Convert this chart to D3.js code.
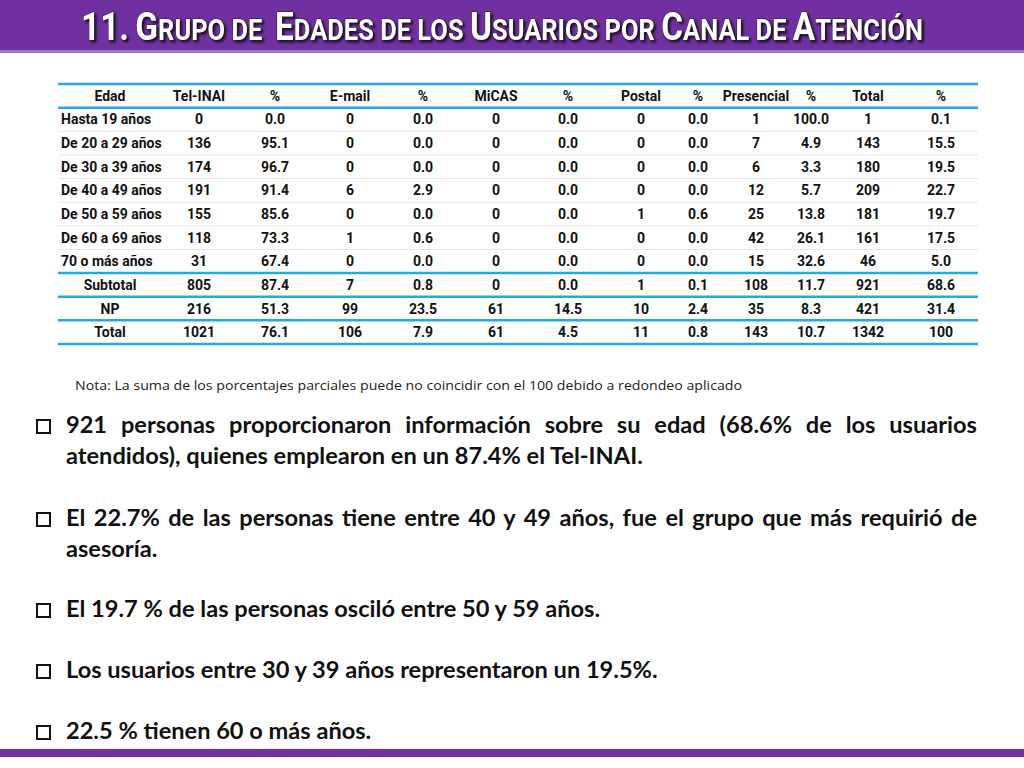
<!DOCTYPE html>
<html><head><meta charset="utf-8">
<script src="https://cdn.jsdelivr.net/npm/d3@7"></script>
<style>
body{margin:0;background:#fff;width:1024px;height:768px;overflow:hidden}
.bul{position:absolute;left:66px;width:911px;font-family:Lato,'Open Sans',sans-serif;font-weight:bold;font-size:23.6px;line-height:31px;text-align:justify;color:#111}
.box{position:absolute;left:36px;width:11px;height:11px;border:2px solid #111;font-size:0}
</style></head><body>
<svg id="c" width="1024" height="768" style="position:absolute;left:0;top:0"></svg>
<div id="bullets"></div>
<script>
const title = "11. Grupo de  Edades de los Usuarios por Canal de Atención";
const headers = ["Edad","Tel-INAI","%","E-mail","%","MiCAS","%","Postal","%","Presencial","%","Total","%"];
const rowLabels = ["Hasta 19 años","De 20 a 29 años","De 30 a 39 años","De 40 a 49 años","De 50 a 59 años","De 60 a 69 años","70 o más años","Subtotal","NP","Total"];
const telinai = ["0","136","174","191","155","118","31","805","216","1021"];
const telinaiPct = ["0.0","95.1","96.7","91.4","85.6","73.3","67.4","87.4","51.3","76.1"];
const email = ["0","0","0","6","0","1","0","7","99","106"];
const emailPct = ["0.0","0.0","0.0","2.9","0.0","0.6","0.0","0.8","23.5","7.9"];
const micas = ["0","0","0","0","0","0","0","0","61","61"];
const micasPct = ["0.0","0.0","0.0","0.0","0.0","0.0","0.0","0.0","14.5","4.5"];
const postal = ["0","0","0","0","1","0","0","1","10","11"];
const postalPct = ["0.0","0.0","0.0","0.0","0.6","0.0","0.0","0.1","2.4","0.8"];
const presencial = ["1","7","6","12","25","42","15","108","35","143"];
const presencialPct = ["100.0","4.9","3.3","5.7","13.8","26.1","32.6","11.7","8.3","10.7"];
const total = ["1","143","180","209","181","161","46","921","421","1342"];
const totalPct = ["0.1","15.5","19.5","22.7","19.7","17.5","5.0","68.6","31.4","100"];
const note = "Nota: La suma de los porcentajes parciales puede no coincidir con el 100 debido a redondeo aplicado";
const bullets = [
 "921 personas proporcionaron información sobre su edad (68.6% de los usuarios atendidos), quienes emplearon en un 87.4% el Tel-INAI.",
 "El 22.7% de las personas tiene entre 40 y 49 años, fue el grupo que más requirió de asesoría.",
 "El 19.7 % de las personas osciló entre 50 y 59 años.",
 "Los usuarios entre 30 y 39 años representaron un 19.5%.",
 "22.5 % tienen 60 o más años."
];
const columns = [rowLabels,telinai,telinaiPct,email,emailPct,micas,micasPct,postal,postalPct,presencial,presencialPct,total,totalPct];

const svg = d3.select("#c");
svg.append("rect").attr("x",0).attr("y",0).attr("width",1024).attr("height",50).attr("fill","#7030a0");
svg.append("rect").attr("x",0).attr("y",50).attr("width",1024).attr("height",3).attr("fill","#9b7bb8");
svg.append("rect").attr("x",0).attr("y",749).attr("width",1024).attr("height",8).attr("fill","#7030a0");
const tt = svg.append("text").attr("x",502).attr("y",40).attr("text-anchor","middle")
 .attr("font-family","Roboto,'Liberation Sans',sans-serif").attr("font-weight","bold")
 .attr("textLength",842).attr("lengthAdjust","spacingAndGlyphs")
 .attr("fill","#fff").attr("stroke","#222").attr("stroke-width",0.9).attr("paint-order","stroke")
 .style("filter","drop-shadow(2px 2px 1px rgba(0,0,0,0.7))");
for(const ch of title){
  const big = (ch!==ch.toLowerCase()) || /[0-9.]/.test(ch);
  tt.append("tspan").attr("font-size", big?38:29).text(ch===" "?"\u00a0":ch.toUpperCase());
}

const centers = [110,199,275,350,423,496,568,641,698,756,811,868,941];
const x0=58,x1=978;
const y = d3.scaleBand().domain(d3.range(-1,rowLabels.length)).range([84,344]);
const tf = "Roboto,'Liberation Sans',sans-serif";
d3.range(0,7).forEach(i=>{
  svg.append("line").attr("x1",x0).attr("x2",x1).attr("y1",y(i)+y.bandwidth()).attr("y2",y(i)+y.bandwidth()).attr("stroke","#e6e6e6");
});
[84,y(0),y(7),y(8),y(9),344].forEach(v=>{
  svg.append("line").attr("x1",x0).attr("x2",x1).attr("y1",v).attr("y2",v).attr("stroke","#29a8e0").attr("stroke-width",2.5);
});
headers.forEach((h,j)=>{
  svg.append("text").attr("x",centers[j]).attr("y",y(-1)+y.bandwidth()/2+5).attr("text-anchor","middle")
   .attr("font-family",tf).attr("font-weight","bold").attr("font-size",14).attr("fill","#111").text(h);
});
columns.forEach((col,j)=>{
  col.forEach((v,i)=>{
    const left = (j===0 && i<7);
    svg.append("text").attr("x",left?61:centers[j]).attr("y",y(i)+y.bandwidth()/2+5)
     .attr("text-anchor",left?"start":"middle")
     .attr("font-family",tf).attr("font-weight","bold").attr("font-size",14).attr("fill","#111").text(v);
  });
});
svg.append("text").attr("x",75).attr("y",390).attr("font-family","'Open Sans',sans-serif").attr("font-size",13.5)
 .attr("textLength",667).attr("lengthAdjust","spacingAndGlyphs").attr("fill","#222").text(note);

const tops=[409,502,593,654,715];
const bd=d3.select("#bullets");
bullets.forEach((b,i)=>{
  bd.append("div").attr("class","box").style("top",(tops[i]+10)+"px");
  bd.append("div").attr("class","bul").style("top",tops[i]+"px").text(b);
});
</script></body></html>
